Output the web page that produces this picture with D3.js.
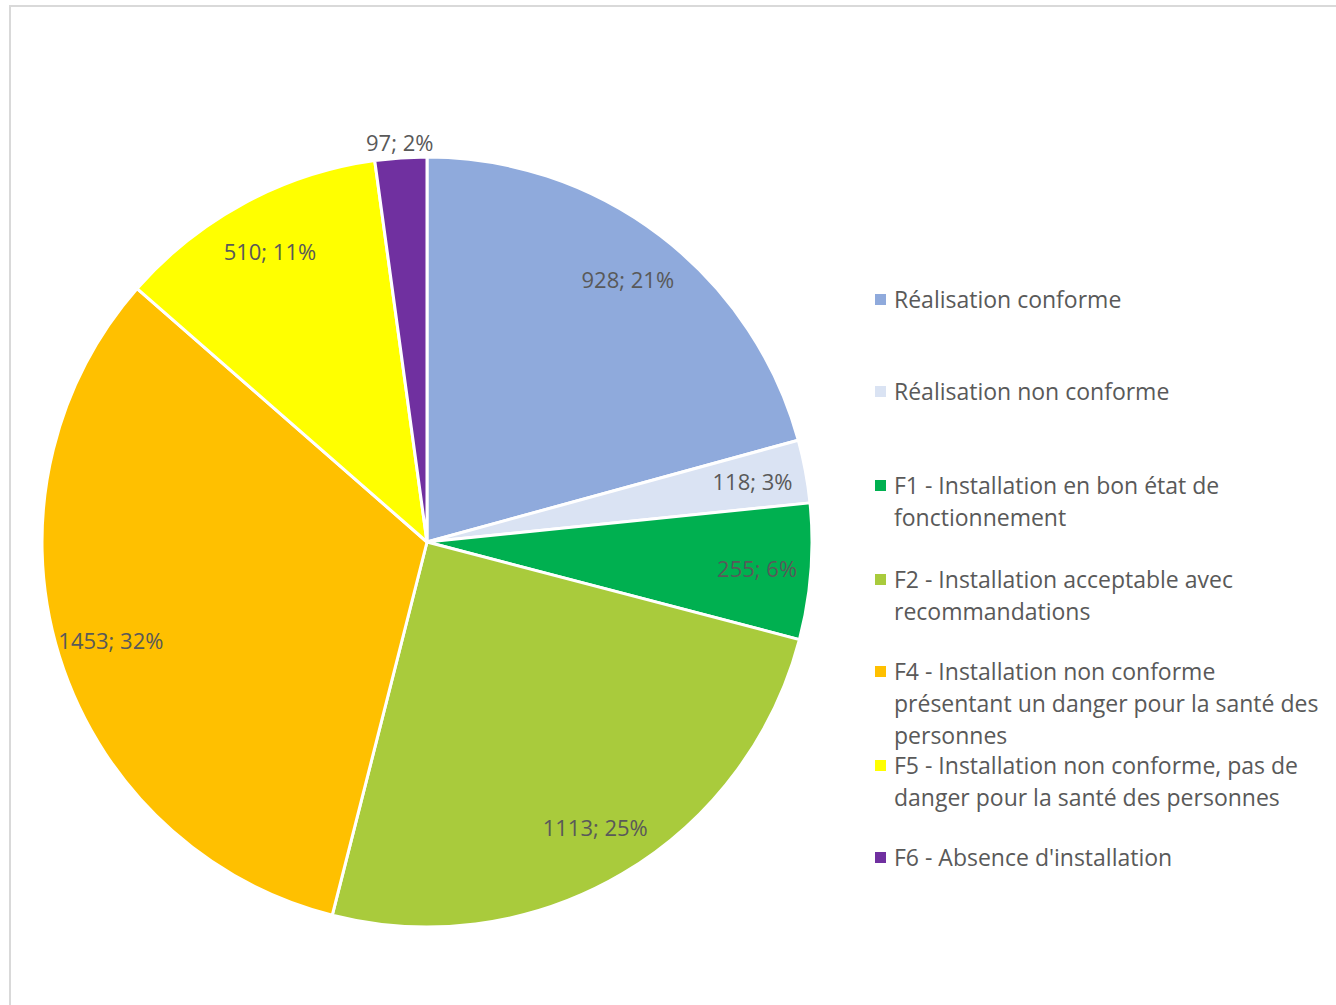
<!DOCTYPE html>
<html lang="en">
<head>
    <meta charset="UTF-8">
    <title>Répartition des contrôles</title>
    <script src="https://d3js.org/d3.v7.min.js"></script>
    <style>
        body { margin: 0; background: #fff; font-family: "Open Sans", Arial, sans-serif; }
        svg { display: block; }
        .label { fill: #595959; font-size: 22px; }
        .legend text { fill: #595959; font-size: 23px; }
    </style>
</head>
<body>
<div id="chart"></div>
<script>
// Data
const categories = [
    'Réalisation conforme',
    'Réalisation non conforme',
    'F1 - Installation en bon état de\nfonctionnement',
    'F2 - Installation acceptable avec\nrecommandations',
    'F4 - Installation non conforme\nprésentant un danger pour la santé des\npersonnes',
    'F5 - Installation non conforme, pas de\ndanger pour la santé des personnes',
    "F6 - Absence d'installation"
];
const values = [928, 118, 255, 1113, 1453, 510, 97];
const colors = ['#8faadc', '#dae3f3', '#00b050', '#a9cb3c', '#ffc000', '#ffff00', '#7030a0'];

const W = 1336, H = 1005;
const cx = 427, cy = 542, radius = 385;

const svg = d3.select('#chart').append('svg')
    .attr('width', W)
    .attr('height', H);

// chart frame (runs past the right/bottom edge)
svg.append('rect')
    .attr('x', 10).attr('y', 6)
    .attr('width', W + 20).attr('height', H + 20)
    .attr('fill', 'none')
    .attr('stroke', '#d9d9d9')
    .attr('stroke-width', 2);

const total = d3.sum(values);
const data = values.map((v, i) => ({ name: categories[i], value: v, color: colors[i] }));

const pie = d3.pie().value(d => d.value).sort(null);
const arcs = pie(data);
const arc = d3.arc().innerRadius(0).outerRadius(radius);
const labelArc = d3.arc().innerRadius(radius * 0.86).outerRadius(radius * 0.86);
const outerArc = d3.arc().innerRadius(radius + 16).outerRadius(radius + 16);

const g = svg.append('g').attr('transform', `translate(${cx},${cy})`);

g.selectAll('path')
    .data(arcs)
  .enter().append('path')
    .attr('d', arc)
    .attr('fill', d => d.data.color)
    .attr('stroke', '#fff')
    .attr('stroke-width', 3)
    .attr('stroke-linejoin', 'round');

// labels: value; percent (tiny slices get their label outside)
g.selectAll('.label')
    .data(arcs)
  .enter().append('text')
    .attr('class', 'label')
    .attr('transform', d => {
        const small = (d.endAngle - d.startAngle) < 0.15;
        const p = small ? outerArc.centroid(d) : labelArc.centroid(d);
        return `translate(${p[0]},${p[1]})`;
    })
    .attr('text-anchor', 'middle')
    .attr('dominant-baseline', 'central')
    .text(d => `${d.data.value}; ${Math.round(d.data.value / total * 100)}%`);

// legend
const legendY = [299, 391, 485, 579, 671, 765, 857];
const lineH = 32;
const legend = svg.append('g').attr('class', 'legend');

const items = legend.selectAll('g')
    .data(data)
  .enter().append('g')
    .attr('transform', (d, i) => `translate(875,${legendY[i]})`);

items.append('rect')
    .attr('x', 0).attr('y', -5)
    .attr('width', 11).attr('height', 11)
    .attr('fill', d => d.color);

items.append('text')
    .attr('x', 19)
    .attr('dominant-baseline', 'central')
    .selectAll('tspan')
    .data(d => d.name.split('\n'))
  .enter().append('tspan')
    .attr('x', 19)
    .attr('dy', (d, i) => i === 0 ? 0 : lineH)
    .text(d => d);
</script>
</body>
</html>
